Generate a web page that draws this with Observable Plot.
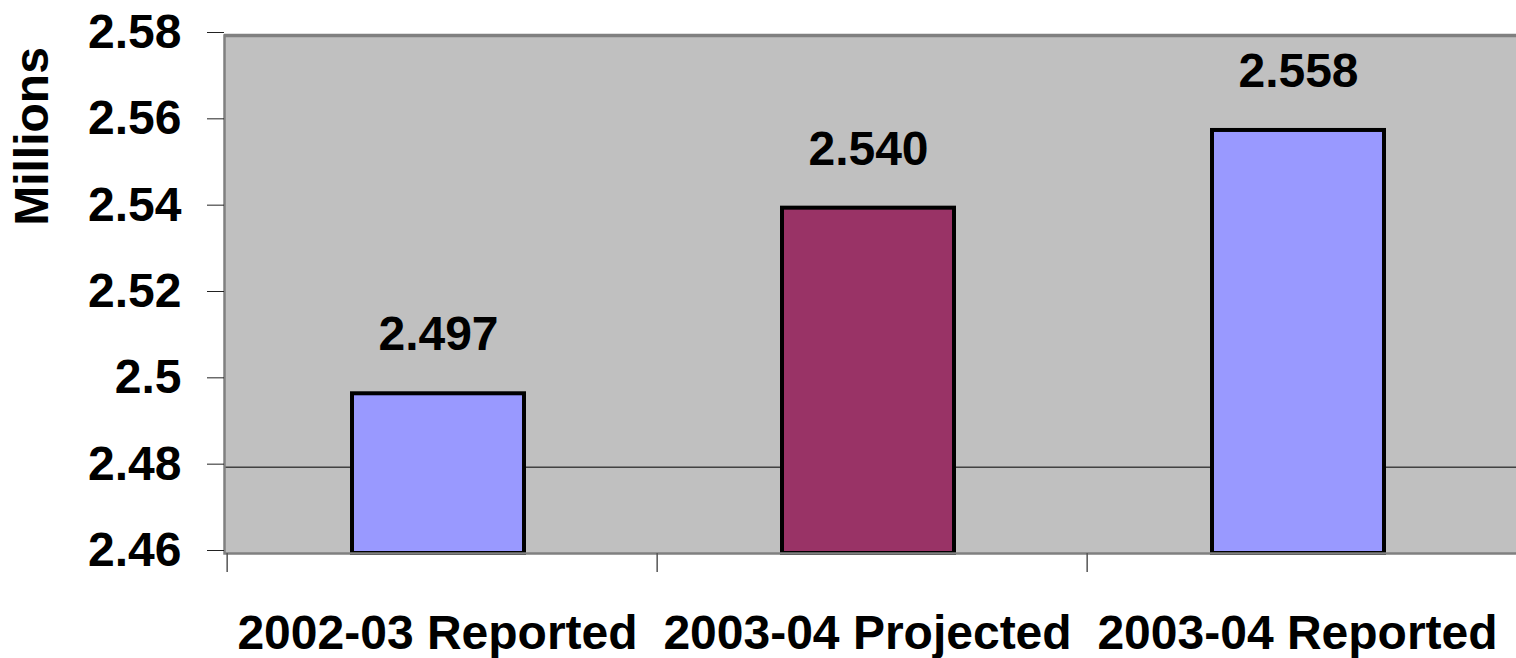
<!DOCTYPE html>
<html>
<head>
<meta charset="utf-8">
<script src="https://cdn.jsdelivr.net/npm/d3@7"></script>
<script src="https://cdn.jsdelivr.net/npm/@observablehq/plot@0.6"></script>
<style>
  html, body { margin: 0; padding: 0; background: #ffffff; }
  #chart svg { display: block; }
</style>
</head>
<body>
<div id="chart"></div>
<script>
const categories = ["2002-03 Reported", "2003-04 Projected", "2003-04 Reported"];
const values = [2.497, 2.540, 2.558];
const valueLabels = ["2.497", "2.540", "2.558"];
const barColors = ["#9999ff", "#993366", "#9999ff"];
const yTicks = [2.46, 2.48, 2.5, 2.52, 2.54, 2.56, 2.58];
const yTickLabels = ["2.46", "2.48", "2.5", "2.52", "2.54", "2.56", "2.58"];
const gridValues = [2.48];
const yDomain = [2.46, 2.58];
const yAxisTitle = "Millions";

const data = categories.map((c, i) => ({cat: c, value: values[i], label: valueLabels[i], color: barColors[i]}));

const W = 1516, H = 658;
const mL = 224, mR = 0, mT = 35, mB = 105;
const step = (W - mL - mR) / categories.length;
const frameH = H - mT - mB;
const font = "'Liberation Sans', Arial, Helvetica, sans-serif";

const chart = Plot.plot({
  width: W,
  height: H,
  marginLeft: mL,
  marginRight: mR,
  marginTop: mT,
  marginBottom: mB,
  style: {fontFamily: font, fontWeight: "bold", fontSize: "48px", color: "#000", background: "#fff"},
  x: {domain: categories, paddingInner: 0.6, paddingOuter: 0.3, label: null},
  y: {domain: yDomain, label: null},
  color: {type: "identity"},
  marks: [
    Plot.frame({fill: "#c0c0c0"}),
    Plot.ruleY(gridValues, {stroke: "#000", strokeWidth: 1}),
    Plot.barY(data, {x: "cat", y1: d => yDomain[0], y2: "value", fill: "color", stroke: "#000", strokeWidth: 4, dx: -2}),
    Plot.text(data, {x: "cat", y: "value", text: "label", dy: -59, dx: -2, fontSize: 48, fontWeight: "bold", fill: "#000"}),
    Plot.frame({stroke: "#808080", strokeWidth: 2.5, insetRight: -4}),
    Plot.ruleY([yDomain[1]], {stroke: "#808080", strokeWidth: 3.5}),
    Plot.axisY(yTicks, {
      tickFormat: d => yTickLabels[yTicks.indexOf(d)],
      tickSize: 17, tickPadding: 26, fontSize: 48, fontWeight: "bold", dy: -3, stroke: "#222", fill: "#000"
    }),
    Plot.axisX({tickSize: 0, tickPadding: 61, fontSize: 48, fontWeight: "bold", fill: "#000", dx: -3}),
    Plot.ruleX(categories, {x: d => d, dx: -step / 2 + 2, insetTop: frameH, insetBottom: -19, stroke: "#555", strokeWidth: 1.5}),
    Plot.text([yAxisTitle], {frameAnchor: "top-left", dx: -192, dy: 101, rotate: -90, text: d => d, fontSize: 48, fontWeight: "bold", textAnchor: "middle", lineAnchor: "middle", fill: "#000"})
  ]
});

document.getElementById("chart").appendChild(chart);
</script>
</body>
</html>
